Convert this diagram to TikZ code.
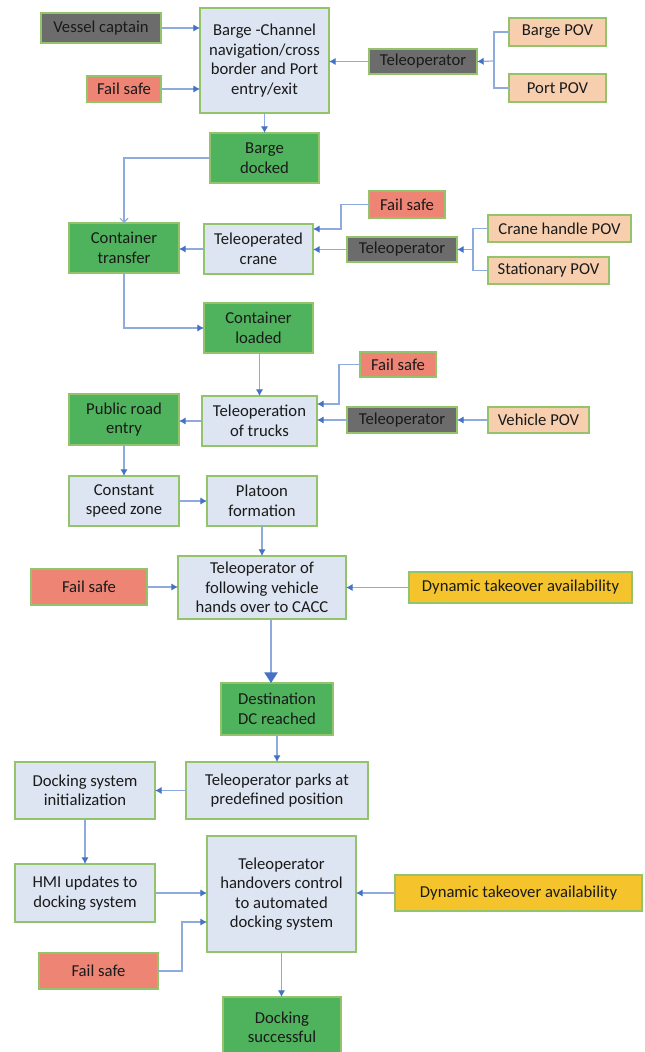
\documentclass[tikz,border=0pt]{standalone}
\usepackage{fontspec}
\setmainfont{Carlito}
\usetikzlibrary{arrows.meta,calc}
\definecolor{bfill}{HTML}{DDE5F2}
\definecolor{gborder}{HTML}{93C36A}
\definecolor{gfill}{HTML}{4FB25C}
\definecolor{gyfill}{HTML}{6C6C6C}
\definecolor{rfill}{HTML}{EE8474}
\definecolor{pfill}{HTML}{F7CFAF}
\definecolor{yfill}{HTML}{F5C42C}
\definecolor{lcol}{HTML}{8FAADC}
\definecolor{acol}{HTML}{4472C4}
\definecolor{tcol}{HTML}{1A1A1A}
\tikzset{
  boxbase/.style={draw=gborder, line width=1.1pt, inner sep=0pt, outer sep=0pt, align=center, text=tcol,
    font=\fontsize{12.5}{14.6}\selectfont},
  bluebox/.style={boxbase, fill=bfill},
  greenbox/.style={boxbase, fill=gfill},
  graybox/.style={boxbase, fill=gyfill},
  redbox/.style={boxbase, fill=rfill},
  peachbox/.style={boxbase, fill=pfill},
  yellowbox/.style={boxbase, fill=yfill},
  conn/.style={draw=lcol, line width=0.9pt},
  arr/.style={conn, -{Latex[length=5pt,width=5.5pt,color=acol]}},
  openarr/.style={conn, -{Straight Barb[length=3pt,width=6pt,color=lcol]}},
  bigarr/.style={conn, line width=1pt, -{Triangle[length=8pt,width=10pt,color=acol]}}
}
\newcommand\bx[7]{\node[#6, minimum width={(#4-#2)*0.75pt}, minimum height={(#5-#3)*0.75pt}] (#1) at ({(#2+#4)/2},{(#3+#5)/2}) {#7};}
\begin{document}
\begin{tikzpicture}[x=0.75pt,y=-0.75pt]
\useasboundingbox (0,0) rectangle (645,1052);
% nodes
\bx{vessel}{41}{13}{161}{43}{graybox}{Vessel captain}
\bx{barge}{200}{8}{329}{113}{bluebox}{Barge -Channel\\navigation/cross\\border and Port\\entry/exit}
\bx{fsa}{87}{76}{161}{102}{redbox}{Fail safe}
\bx{tela}{369}{49}{477}{74}{graybox}{Teleoperator}
\bx{bpov}{509}{18}{606}{46}{peachbox}{Barge POV}
\bx{ppov}{509}{74}{606}{102}{peachbox}{Port POV}
\bx{docked}{210}{133}{319}{183}{greenbox}{Barge\\docked}
\bx{fsb}{369}{191}{445}{218}{redbox}{Fail safe}
\bx{chpov}{488}{215}{631}{242}{peachbox}{Crane handle POV}
\bx{spov}{488}{257}{609}{284}{peachbox}{Stationary POV}
\bx{ctrans}{69}{223}{179}{273}{greenbox}{Container\\transfer}
\bx{crane}{204}{224}{313}{274}{bluebox}{Teleoperated\\crane}
\bx{telb}{347}{237}{457}{262}{graybox}{Teleoperator}
\bx{cload}{204}{303}{313}{353}{greenbox}{Container\\loaded}
\bx{fsc}{360}{352}{436}{377}{redbox}{Fail safe}
\bx{pre}{69}{394}{179}{445}{greenbox}{Public road\\entry}
\bx{trucks}{202}{396}{317}{446}{bluebox}{Teleoperation\\of trucks}
\bx{telc}{347}{407}{457}{433}{graybox}{Teleoperator}
\bx{vpov}{488}{407}{589}{433}{peachbox}{Vehicle POV}
\bx{csz}{69}{476}{179}{526}{bluebox}{Constant\\speed zone}
\bx{plat}{207}{476}{317}{526}{bluebox}{Platoon\\formation}
\bx{follow}{178}{556}{346}{619}{bluebox}{Teleoperator of\\following vehicle\\hands over to CACC}
\bx{fsd}{31}{569}{147}{605}{redbox}{Fail safe}
\bx{dyna}{409}{572}{632}{603}{yellowbox}{Dynamic takeover availability}
\bx{dest}{221}{683}{333}{735}{greenbox}{Destination\\DC reached}
\bx{dinit}{15}{762}{155}{819}{bluebox}{Docking system\\initialization}
\bx{parks}{186}{762}{368}{819}{bluebox}{Teleoperator parks at\\predefined position}
\bx{hmi}{15}{864}{155}{922}{bluebox}{HMI updates to\\docking system}
\bx{hand}{207}{836}{356}{952}{bluebox}{Teleoperator\\handovers control\\to automated\\docking system}
\bx{dynb}{395}{875}{642}{911}{yellowbox}{Dynamic takeover availability}
\bx{fse}{39}{953}{158}{989}{redbox}{Fail safe}
\bx{succ}{223}{997}{341}{1058}{greenbox}{Docking\\successful}
% junction coordinates
\coordinate (ja) at (494,61);
\coordinate (jb) at (473,249.5);
\coordinate (jc) at (341,229);
\coordinate (jd) at (339,404);
\coordinate (je) at (182,922);
% connectors
\draw[arr] (vessel.east) -- (vessel.east -| barge.west);
\draw[arr] (fsa.east) -- (fsa.east -| barge.west);
\draw[arr] (tela.west) -- (tela.west -| barge.east);
\draw[conn] (bpov.west) -| (ja);
\draw[conn] (ppov.west) -| (ja);
\draw[arr] (ja) -- (tela.east);
\draw[arr] (barge.south) -- (docked.north);
\draw[openarr] (docked.west) -| (ctrans.north);
\draw[arr] (fsb.west) -| (jc) -- (jc -| crane.east);
\draw[arr] (telb.west) -- (telb.west -| crane.east);
\draw[arr] (crane.west) -- (crane.west -| ctrans.east);
\draw[conn] (chpov.west) -| (jb);
\draw[conn] (spov.west) -| (jb);
\draw[arr] (jb) -- (telb.east);
\draw[arr] (ctrans.south) |- (cload.west);
\draw[arr] ([xshift=0.75pt]cload.south) -- ([xshift=0.75pt]cload.south |- trucks.north);
\draw[arr] (fsc.west) -| (jd) -- (jd -| trucks.east);
\draw[arr] (telc.west) -- (telc.west -| trucks.east);
\draw[arr] (trucks.west) -- (trucks.west -| pre.east);
\draw[arr] (vpov.west) -- (telc.east);
\draw[arr] (pre.south) -- (pre.south |- csz.north);
\draw[arr] (csz.east) -- (plat.west);
\draw[arr] (plat.south) -- (plat.south |- follow.north);
\draw[arr] (fsd.east) -- (fsd.east -| follow.west);
\draw[arr] (dyna.west) -- (dyna.west -| follow.east);
\draw[bigarr] ([xshift=6.75pt]follow.south) -- ([xshift=6.75pt]follow.south |- dest.north);
\draw[arr] (dest.south) -- (dest.south |- parks.north);
\draw[arr] (parks.west) -- (parks.west -| dinit.east);
\draw[arr] (dinit.south) -- (hmi.north);
\draw[arr] (hmi.east) -- (hmi.east -| hand.west);
\draw[arr] (dynb.west) -- (dynb.west -| hand.east);
\draw[arr] (fse.east) -| (je) -- (je -| hand.west);
\draw[arr] (hand.south) -- (hand.south |- succ.north);
\end{tikzpicture}
\end{document}
